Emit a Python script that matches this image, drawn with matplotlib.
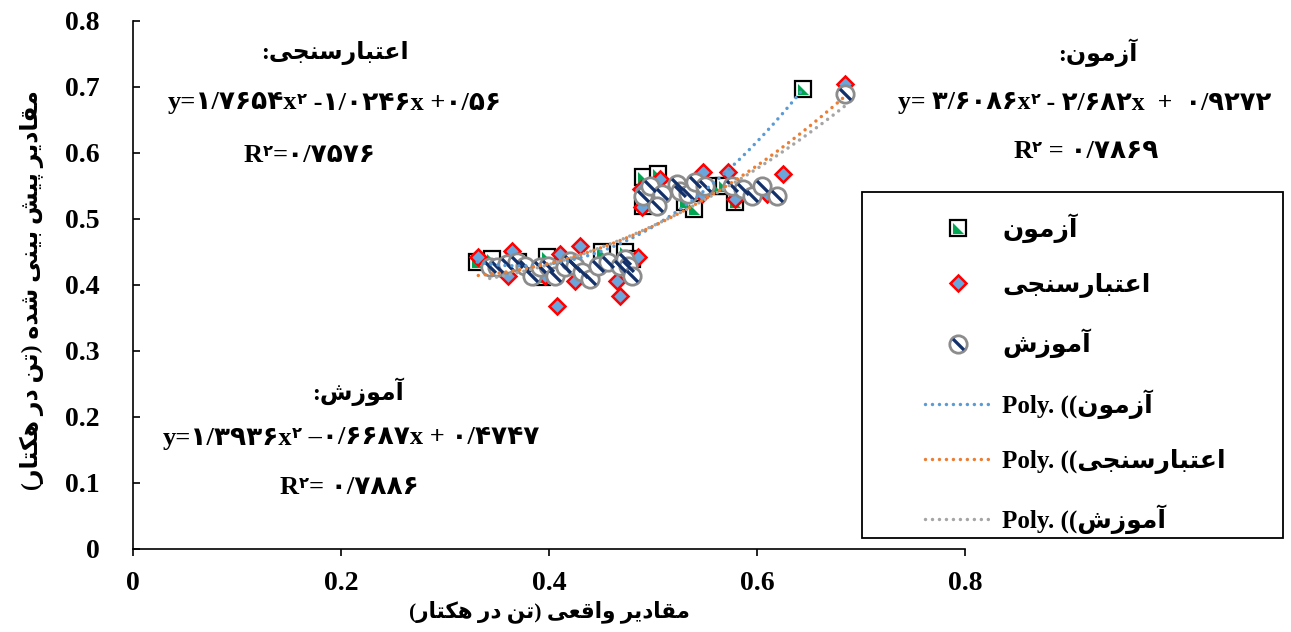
import numpy as np
import matplotlib.pyplot as plt
from matplotlib.path import Path
from matplotlib.lines import Line2D
from matplotlib.patches import Rectangle
from matplotlib.offsetbox import TextArea, HPacker, AnnotationBbox

# ---- values ----
# آزمون (test)
test_x = [0.331, 0.345, 0.370, 0.393, 0.398, 0.451, 0.473, 0.480,
          0.490, 0.505, 0.490, 0.531, 0.539, 0.560, 0.568, 0.579, 0.644]
test_y = [0.435, 0.439, 0.435, 0.412, 0.442, 0.450, 0.450, 0.440,
          0.564, 0.568, 0.520, 0.526, 0.515, 0.550, 0.550, 0.526, 0.697]
# اعتبارسنجی (validation)
valid_x = [0.332, 0.361, 0.364, 0.396, 0.408, 0.411, 0.418, 0.425, 0.430, 0.465, 0.468, 0.486,
           0.488, 0.489, 0.507, 0.547, 0.548, 0.572, 0.579, 0.610, 0.625, 0.685]
valid_y = [0.442, 0.414, 0.452, 0.414, 0.368, 0.447, 0.436, 0.406, 0.459, 0.406, 0.383, 0.442,
           0.545, 0.518, 0.561, 0.538, 0.571, 0.571, 0.530, 0.538, 0.568, 0.705]
# آموزش (training)
train_x = [0.343, 0.350, 0.360, 0.369, 0.377, 0.384, 0.391, 0.399, 0.406, 0.415, 0.420, 0.425,
           0.432, 0.439, 0.447, 0.457, 0.468, 0.473, 0.476, 0.480,
           0.490, 0.497, 0.509, 0.504, 0.523, 0.526, 0.534, 0.540, 0.550, 0.576, 0.587,
           0.595, 0.605, 0.619, 0.685]
train_y = [0.427, 0.427, 0.432, 0.435, 0.429, 0.414, 0.427, 0.429, 0.414, 0.427, 0.436, 0.429,
           0.420, 0.409, 0.429, 0.435, 0.429, 0.439, 0.429, 0.414,
           0.535, 0.550, 0.538, 0.520, 0.553, 0.542, 0.538, 0.556, 0.550, 0.550, 0.545,
           0.535, 0.550, 0.535, 0.690]

# trend line coefficients shown on the chart (x^2, x, 1)
test_coef = [3.6086, -2.682, 0.9272]
valid_coef = [1.7654, -1.0246, 0.56]
train_coef = [1.3936, -0.66687, 0.4747]

xticks = [0, 0.2, 0.4, 0.6, 0.8]
xtick_labels = ['0', '0.2', '0.4', '0.6', '0.8']
yticks = [0, 0.1, 0.2, 0.3, 0.4, 0.5, 0.6, 0.7, 0.8]
ytick_labels = ['0', '0.1', '0.2', '0.3', '0.4', '0.5', '0.6', '0.7', '0.8']

name_test = 'آزمون'
name_valid = 'اعتبارسنجی'
name_train = 'آموزش'
xlabel = 'مقادیر واقعی (تن در هکتار)'
ylabel = 'مقادیر پیش بینی شده (تن در هکتار)'

# ---- simple Persian shaping (matplotlib has no RTL layout) ----
FORMS = {
    'ا': ('\uFE8D', '\uFE8E', None, None),
    'آ': ('\uFE81', '\uFE82', None, None),
    'ب': ('\uFE8F', '\uFE90', '\uFE91', '\uFE92'),
    'پ': ('\uFB56', '\uFB57', '\uFB58', '\uFB59'),
    'ت': ('\uFE95', '\uFE96', '\uFE97', '\uFE98'),
    'ج': ('\uFE9D', '\uFE9E', '\uFE9F', '\uFEA0'),
    'د': ('\uFEA9', '\uFEAA', None, None),
    'ر': ('\uFEAD', '\uFEAE', None, None),
    'ز': ('\uFEAF', '\uFEB0', None, None),
    'س': ('\uFEB1', '\uFEB2', '\uFEB3', '\uFEB4'),
    'ش': ('\uFEB5', '\uFEB6', '\uFEB7', '\uFEB8'),
    'ع': ('\uFEC9', '\uFECA', '\uFECB', '\uFECC'),
    'ق': ('\uFED5', '\uFED6', '\uFED7', '\uFED8'),
    'ک': ('\uFB8E', '\uFB8F', '\uFB90', '\uFB91'),
    'م': ('\uFEE1', '\uFEE2', '\uFEE3', '\uFEE4'),
    'ن': ('\uFEE5', '\uFEE6', '\uFEE7', '\uFEE8'),
    'ه': ('\uFEE9', '\uFEEA', '\uFEEB', '\uFEEC'),
    'و': ('\uFEED', '\uFEEE', None, None),
    'ی': ('\uFBFC', '\uFBFD', '\uFBFE', '\uFBFF'),
}


def fa(s):
    out = []
    for i, ch in enumerate(s):
        if ch not in FORMS:
            out.append(ch)
            continue
        prev = s[i - 1] if i > 0 else ''
        nxt = s[i + 1] if i + 1 < len(s) else ''
        jp = prev in FORMS and FORMS[prev][2] is not None
        jn = nxt in FORMS and FORMS[ch][2] is not None
        iso, fin, ini, med = FORMS[ch]
        if jp and jn:
            out.append(med)
        elif jp:
            out.append(fin)
        elif jn:
            out.append(ini)
        else:
            out.append(iso)
    mirror = {'(': ')', ')': '('}
    return ''.join(mirror.get(c, c) for c in reversed(out))


FAM = ['Liberation Serif', 'DejaVu Sans']
W, H = 1291, 632

fig = plt.figure(figsize=(W / 100, H / 100), dpi=100)
ax = fig.add_axes([133 / W, 1 - 549 / H, (965 - 133) / W, (549 - 21) / H])

# markers
tri = Path([(-1, -1), (1, -1), (-1, 1), (-1, -1)])
band = Path([(-0.52, 0.80), (0.80, -0.52), (0.52, -0.80), (-0.80, 0.52), (-0.52, 0.80)])

sq_kw = dict(ls='', marker='s', ms=11, mfc='white', mec='black', mew=1.6)
sq2_kw = dict(ls='', marker=tri, ms=8, mfc='#00A651', mec='none')
dm_kw = dict(ls='', marker='D', ms=8, mfc='#6AA5DC', mec='#FF0000', mew=1.8)
ci_kw = dict(ls='', marker='o', ms=12.5, mfc='white', mec='#8C8C8C', mew=2.0)
ci2_kw = dict(ls='', marker=band, ms=9.5, mfc='#12306A', mec='none')

ax.plot(test_x, test_y, **sq_kw, zorder=3)
ax.plot(test_x, test_y, **sq2_kw, zorder=3)
ax.plot(valid_x, valid_y, **dm_kw, zorder=4)
ax.plot(train_x, train_y, **ci_kw, zorder=5)
ax.plot(train_x, train_y, **ci2_kw, zorder=5)

# polynomial trend lines
dot = (0, (0.01, 2.0))
for xs, coef, col in [(test_x, test_coef, '#5B9BD5'),
                      (valid_x, valid_coef, '#ED7D31'),
                      (train_x, train_coef, '#A5A5A5')]:
    xx = np.linspace(min(xs), max(xs), 200)
    ax.plot(xx, np.polyval(coef, xx), color=col, lw=2.5, ls=dot,
            dash_capstyle='round', zorder=6)

ax.set_xlim(0, 0.8)
ax.set_ylim(0, 0.8)
ax.set_xticks(xticks, xtick_labels)
ax.set_yticks(yticks, ytick_labels)
for s in ['top', 'right']:
    ax.spines[s].set_visible(False)
for s in ['left', 'bottom']:
    ax.spines[s].set_linewidth(1.2)
ax.tick_params(axis='y', direction='in', length=5, width=1.2, pad=24)
ax.tick_params(axis='x', direction='out', length=5, width=1.2, pad=11)
for lab in ax.get_xticklabels() + ax.get_yticklabels():
    lab.set_fontfamily(FAM)
    lab.set_fontweight('bold')
    lab.set_fontsize(20)

ax.set_xlabel(fa(xlabel), family=FAM, weight='bold', fontsize=15.5)
ax.xaxis.set_label_coords(0.5, -0.097)
ax.set_ylabel(fa(ylabel), family=FAM, weight='bold', fontsize=17)
ax.yaxis.set_label_coords(-0.107, 0.49)


# equations
def eq(parts, x, y, size=19):
    boxes = []
    for txt, sup in parts:
        boxes.append(TextArea(txt, textprops=dict(family=FAM, weight='bold',
                                                  size=size * 0.62 if sup else size)))
    pack = HPacker(children=boxes, align='top', pad=0, sep=0)
    ab = AnnotationBbox(pack, (x, H - y), xycoords='figure pixels', frameon=False,
                        box_alignment=(0.5, 0.5), pad=0)
    fig.add_artist(ab)


def title(s, x, y):
    fig.text(x / W, 1 - y / H, fa(s + ':'), family=FAM, weight='bold', fontsize=17,
             ha='center', va='center')


title(name_valid, 335, 53)
eq([('y=۱/۷۶۵۴x', 0), ('۲', 1), (' -۱/۰۲۴۶x +۰/۵۶', 0)], 334, 103)
eq([('R', 0), ('۲', 1), ('=۰/۷۵۷۶', 0)], 310, 155)

title(name_test, 1098, 53)
eq([('y= ۳/۶۰۸۶x', 0), ('۲', 1), (' - ۲/۶۸۲x  +  ۰/۹۲۷۲', 0)], 1085, 103, 18.5)
eq([('R', 0), ('۲', 1), (' = ۰/۷۸۶۹', 0)], 1086, 152)

title(name_train, 358, 392)
eq([('y=۱/۳۹۳۶x', 0), ('۲', 1), (' –۰/۶۶۸۷x + ۰/۴۷۴۷', 0)], 351, 438)
eq([('R', 0), ('۲', 1), ('= ۰/۷۸۸۶', 0)], 349, 487)

# legend with its own box
fig.patches.append(Rectangle((862 / W, 1 - 538 / H), (1283 - 862) / W, (538 - 192) / H,
                             transform=fig.transFigure, fill=False, ec='black', lw=1.3))
handles = [(Line2D([], [], **sq_kw), Line2D([], [], **sq2_kw)),
           Line2D([], [], **dm_kw),
           (Line2D([], [], **ci_kw), Line2D([], [], **ci2_kw)),
           Line2D([], [], color='#5B9BD5', lw=2.5, ls=dot, dash_capstyle='round'),
           Line2D([], [], color='#ED7D31', lw=2.5, ls=dot, dash_capstyle='round'),
           Line2D([], [], color='#A5A5A5', lw=2.5, ls=dot, dash_capstyle='round')]
labels = [fa(name_test), fa(name_valid), fa(name_train),
          'Poly. ((' + fa(name_test), 'Poly. ((' + fa(name_valid), 'Poly. ((' + fa(name_train)]
fig.legend(handles, labels, loc='upper left', bbox_to_anchor=(925 / W, 1 - 213 / H),
           frameon=False, borderpad=0, borderaxespad=0, handlelength=2.6,
           handletextpad=0.5, labelspacing=1.22,
           prop=dict(family=FAM, weight='bold', size=18))

fig.savefig('out.png', dpi=100)
